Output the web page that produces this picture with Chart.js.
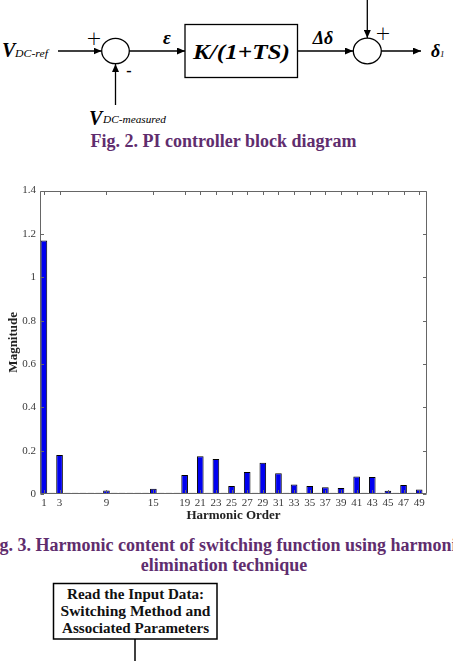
<!DOCTYPE html>
<html><head><meta charset="utf-8">
<script src="https://cdn.jsdelivr.net/npm/chart.js@4.4.0/dist/chart.umd.min.js"></script>
<style>
html,body{margin:0;padding:0;background:#fff;width:453px;height:661px;overflow:hidden;}
#wrap{position:relative;width:453px;height:661px;overflow:hidden;}
#diagram{position:absolute;left:0;top:0;}
#chartBox{position:absolute;left:0;top:180px;width:453px;height:345px;}
</style></head>
<body><div id="wrap">
<svg id="diagram" width="453" height="661" viewBox="0 0 453 661" xmlns="http://www.w3.org/2000/svg">
  <defs>
    <marker id="ah" markerWidth="8" markerHeight="7" refX="8" refY="3.5" orient="auto" markerUnits="userSpaceOnUse">
      <path d="M0,0 L8,3.5 L0,7 z" fill="#000"/>
    </marker>
  </defs>
  <g font-family="Liberation Serif, serif" fill="#000" stroke="none">
    <!-- V_DC-ref -->
    <text x="2" y="57" font-size="20" font-weight="bold" font-style="italic">V</text>
    <text x="15" y="57" font-size="10.5" font-style="italic" textLength="33" lengthAdjust="spacingAndGlyphs">DC-ref</text>
    <text x="94" y="45" font-size="19" font-family="DejaVu Sans" font-weight="300" fill="#000" text-anchor="middle">+</text>
    <text x="129" y="76" font-size="16" font-weight="bold" text-anchor="middle">-</text>
    <!-- V_DC-measured -->
    <text x="89" y="125" font-size="20" font-weight="bold" font-style="italic">V</text>
    <text x="103" y="123" font-size="10.5" font-style="italic" textLength="63" lengthAdjust="spacingAndGlyphs">DC-measured</text>
    <text x="167" y="44" font-size="19" font-weight="bold" font-style="italic" text-anchor="middle">ε</text>
    <text x="241.5" y="59" font-size="22" font-weight="bold" font-style="italic" text-anchor="middle" textLength="97" lengthAdjust="spacingAndGlyphs">K/(1+TS)</text>
    <text x="323" y="44" font-size="18" font-weight="bold" font-style="italic" text-anchor="middle">Δδ</text>
    <text x="383" y="40" font-size="19" font-family="DejaVu Sans" font-weight="300" fill="#000" text-anchor="middle">+</text>
    <text x="431" y="57" font-size="18" font-weight="bold" font-style="italic">δ</text>
    <text x="440" y="57" font-size="9" font-style="italic">1</text>
  </g>
  <g stroke="#000" stroke-width="1.3" fill="none">
    <line x1="58" y1="51" x2="101.5" y2="51" marker-end="url(#ah)"/>
    <ellipse cx="115.5" cy="51" rx="13.8" ry="12.7"/>
    <line x1="115.5" y1="105" x2="115.5" y2="64" marker-end="url(#ah)"/>
    <line x1="129.3" y1="51" x2="185" y2="51" marker-end="url(#ah)"/>
    <rect x="185" y="24.5" width="112.5" height="53"/>
    <line x1="297.5" y1="51" x2="353" y2="51" marker-end="url(#ah)"/>
    <ellipse cx="367.3" cy="51" rx="14" ry="12.8"/>
    <line x1="367.3" y1="0" x2="367.3" y2="38" marker-end="url(#ah)"/>
    <line x1="381.3" y1="51" x2="421" y2="51" marker-end="url(#ah)"/>
  </g>
  <g font-family="Liberation Serif, serif" font-weight="bold" fill="#5f2d6e" font-size="18" text-anchor="middle">
    <text x="223.5" y="147">Fig. 2. PI controller block diagram</text>
    <text x="224" y="551">Fig. 3. Harmonic content of switching function using harmonic</text>
    <text x="224" y="571">elimination technique</text>
  </g>
  <g stroke="#000" stroke-width="1.5" fill="none">
    <rect x="53.5" y="583.5" width="163.5" height="55.5"/>
    <line x1="135" y1="639" x2="135" y2="661"/>
  </g>
  <g font-family="Liberation Serif, serif" font-weight="bold" fill="#111" font-size="15" text-anchor="middle">
    <text x="135.5" y="598.5" textLength="137" lengthAdjust="spacingAndGlyphs">Read the Input Data:</text>
    <text x="135.5" y="615.5" textLength="150" lengthAdjust="spacingAndGlyphs">Switching Method and</text>
    <text x="135.5" y="632.5" textLength="147" lengthAdjust="spacingAndGlyphs">Associated Parameters</text>
  </g>
</svg>
<div id="chartBox"><canvas id="c" width="453" height="345"></canvas></div>
</div>
<script>
// ---- data ----
const harmonicOrder = [1,2,3,4,5,6,7,8,9,10,11,12,13,14,15,16,17,18,19,20,21,22,23,24,25,
                       26,27,28,29,30,31,32,33,34,35,36,37,38,39,40,41,42,43,44,45,46,47,48,49];
const magnitude = [1.17,0,0.18,0,0,0,0,0,0.016,0,0,0,0,0,0.024,0,0,0,0.088,0,0.174,0,0.162,0,0.037,
                   0,0.102,0,0.144,0,0.096,0,0.044,0,0.037,0,0.031,0,0.028,0,0.081,0,0.078,0,0.015,0,0.041,0,0.021];
const xTickLabels = [1,3,9,15,19,21,23,25,27,29,31,33,35,37,39,41,43,45,47,49];
const yTickLabels = [0,0.2,0.4,0.6,0.8,1,1.2,1.4];

const frame = {
  id: 'frame',
  afterDatasetsDraw(chart) {
    const {ctx, chartArea: a, scales: {x, y}} = chart;
    ctx.save();
    ctx.strokeStyle = '#666';
    ctx.lineWidth = 1;
    ctx.beginPath();
    const L = Math.round(a.left) + 0.5, R = Math.round(a.right) - 0.5;
    const T = Math.round(a.top) + 0.5, B = Math.round(a.bottom) - 0.5;
    ctx.rect(L, T, R - L, B - T);
    xTickLabels.forEach(v => {
      const px = Math.round(x.getPixelForValue(v)) + 0.5;
      ctx.moveTo(px, T); ctx.lineTo(px, T + 3.5);
      ctx.moveTo(px, B); ctx.lineTo(px, B - 3.5);
    });
    yTickLabels.forEach(v => {
      const py = Math.round(y.getPixelForValue(v)) + 0.5;
      ctx.moveTo(L, py); ctx.lineTo(L + 3.5, py);
      ctx.moveTo(R, py); ctx.lineTo(R - 3.5, py);
    });
    ctx.stroke();
    ctx.restore();
  }
};

new Chart(document.getElementById('c'), {
  type: 'bar',
  data: {
    datasets: [{
      data: harmonicOrder.map((h, i) => ({x: h, y: magnitude[i]})),
      backgroundColor: '#0000f0',
      borderColor: '#000',
      borderWidth: 1,
      borderSkipped: false,
      barPercentage: 0.85,
      categoryPercentage: 1,
      minBarLength: 1.2
    }]
  },
  options: {
    responsive: false,
    devicePixelRatio: 1,
    animation: false,
    layout: {padding: {top: 9, right: 26, left: 0, bottom: 0}},
    plugins: {legend: {display: false}, tooltip: {enabled: false}},
    scales: {
      x: {
        type: 'linear',
        offset: false,
        min: 0.5, max: 50,
        afterBuildTicks: s => { s.ticks = xTickLabels.map(v => ({value: v})); },
        afterFit: s => { s.height = 31; },
        grid: {display: false, drawTicks: false, offset: false},
        border: {display: false},
        ticks: {
          autoSkip: false, maxRotation: 0, padding: 3,
          color: '#3a3a3a',
          font: {family: 'Liberation Serif', size: 11},
          callback: v => String(v)
        },
        title: {
          display: true, text: 'Harmonic Order', color: '#222',
          font: {family: 'Liberation Serif', size: 13, weight: 'bold'},
          padding: {top: 0, bottom: 1.2}
        }
      },
      y: {
        min: 0, max: 1.4,
        afterBuildTicks: s => { s.ticks = yTickLabels.map(v => ({value: v})); },
        afterFit: s => { s.width = 40; },
        grid: {display: false, drawTicks: false},
        border: {display: false},
        ticks: {
          padding: 4, color: '#3a3a3a',
          font: {family: 'Liberation Serif', size: 11},
          callback: v => String(Math.round(v * 10) / 10)
        },
        title: {
          display: true, text: 'Magnitude', color: '#222',
          font: {family: 'Liberation Serif', size: 13, weight: 'bold'},
          padding: {top: 6, bottom: 0}
        }
      }
    }
  },
  plugins: [frame]
});
</script>
</body></html>
